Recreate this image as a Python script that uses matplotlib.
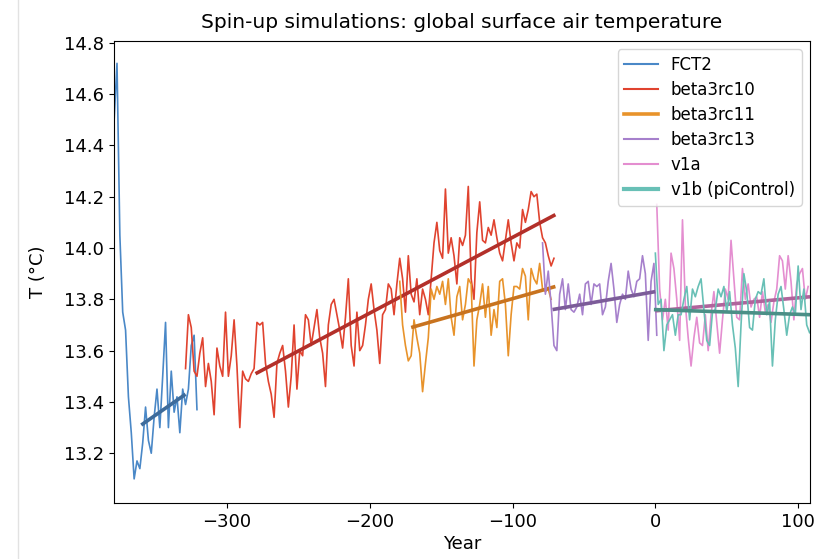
import numpy as np
import matplotlib
matplotlib.use("Agg")
import matplotlib.pyplot as plt
from matplotlib.lines import Line2D

# annual-mean global surface air temperature (sampled every 2 years), deg C
fct2_start = -379
fct2 = [14.50, 14.72, 14.05, 13.75, 13.68, 13.42, 13.28, 13.10, 13.17, 13.14,
        13.24, 13.38, 13.25, 13.20, 13.34, 13.45, 13.30, 13.50, 13.71, 13.30,
        13.52, 13.36, 13.42, 13.28, 13.45, 13.39, 13.45, 13.62, 13.66, 13.37]

b10_start = -329
beta3rc10 = [13.53, 13.74, 13.69, 13.52, 13.50, 13.59, 13.65, 13.46, 13.55, 13.48,
             13.35, 13.61, 13.54, 13.50, 13.75, 13.50, 13.58, 13.72, 13.54, 13.30,
             13.52, 13.49, 13.48, 13.51, 13.53, 13.71, 13.70, 13.71, 13.55, 13.48,
             13.43, 13.34, 13.55, 13.59, 13.62, 13.52, 13.38, 13.50, 13.70, 13.45,
             13.60, 13.58, 13.74, 13.72, 13.62, 13.69, 13.76, 13.65, 13.59, 13.46,
             13.70, 13.78, 13.80, 13.74, 13.68, 13.61, 13.73, 13.88, 13.62, 13.54,
             13.75, 13.60, 13.62, 13.70, 13.80, 13.86, 13.76, 13.68, 13.55, 13.74,
             13.76, 13.86, 13.84, 13.74, 13.86, 13.96, 13.88, 13.75, 13.97, 13.82,
             13.79, 13.88, 13.74, 13.84, 13.80, 13.74, 13.88, 14.02, 14.10, 13.99,
             13.96, 14.23, 13.98, 14.04, 13.97, 13.86, 14.04, 14.01, 14.05, 14.24,
             13.88, 13.80, 14.06, 14.18, 14.03, 14.02, 14.08, 14.05, 14.11, 14.04,
             13.98, 13.95, 14.03, 14.11, 14.02, 13.95, 14.02, 14.00, 14.15, 14.10,
             14.15, 14.22, 14.20, 14.21, 14.10, 14.04, 14.02, 13.97, 13.93, 13.96]

b11_start = -179
beta3rc11 = [13.87, 13.70, 13.62, 13.56, 13.58, 13.72, 13.65, 13.59, 13.44, 13.55,
             13.65, 13.84, 13.80, 13.85, 13.82, 13.87, 13.78, 13.88, 13.73, 13.66,
             13.81, 13.85, 13.72, 13.78, 13.88, 13.86, 13.54, 13.72, 13.78, 13.86,
             13.73, 13.85, 13.66, 13.76, 13.69, 13.87, 13.88, 13.78, 13.58, 13.74,
             13.85, 13.85, 13.84, 13.92, 13.89, 13.72, 13.92, 13.88, 13.86, 13.94,
             13.84, 13.83, 13.84, 13.80]

b13_start = -79
beta3rc13 = [14.02, 13.82, 13.91, 13.78, 13.62, 13.60, 13.82, 13.88, 13.76, 13.86,
             13.76, 13.75, 13.77, 13.82, 13.74, 13.86, 13.87, 13.78, 13.86, 13.85,
             13.86, 13.74, 13.77, 13.87, 13.94, 13.84, 13.71, 13.78, 13.82, 13.80,
             13.91, 13.84, 13.81, 13.87, 13.88, 13.97, 13.90, 13.64, 13.87, 13.94,
             13.66]

v1a_start = 1
v1a = [14.17, 13.84, 13.72, 13.80, 13.68, 13.98, 13.92, 13.80, 13.64, 14.11,
       13.78, 13.65, 13.54, 13.65, 13.73, 13.63, 13.62, 13.74, 13.60, 13.74,
       13.83, 13.71, 13.59, 13.72, 13.84, 13.80, 14.03, 13.88, 13.73, 13.72,
       13.92, 13.80, 13.86, 13.77, 13.80, 13.81, 13.73, 13.83, 13.75, 13.78,
       13.71, 13.79, 13.84, 13.97, 13.95, 13.84, 13.97, 13.87, 13.72, 13.86,
       13.90, 13.92, 13.80, 13.85]

v1b_start = 0
v1b = [13.98, 13.78, 13.80, 13.60, 13.70, 13.72, 13.74, 13.66, 13.74, 13.74,
       13.80, 13.85, 13.72, 13.84, 13.81, 13.85, 13.88, 13.76, 13.64, 13.62,
       13.75, 13.76, 13.84, 13.81, 13.85, 13.75, 13.83, 13.70, 13.61, 13.46,
       13.70, 13.90, 13.83, 13.69, 13.68, 13.80, 13.83, 13.82, 13.88, 13.74,
       13.79, 13.54, 13.72, 13.82, 13.85, 13.76, 13.66, 13.74, 13.77, 13.74,
       13.93, 13.76, 13.84, 13.70, 13.67]

# linear trend end points (year, T)
trend_fct2 = ([-360, -329], [13.31, 13.43])
trend_b10 = ([-280, -70], [13.51, 14.13])
trend_b11 = ([-171, -70], [13.69, 13.85])
trend_b13 = ([-72, 0], [13.76, 13.83])
trend_v1a = ([0, 108.3], [13.755, 13.81])
trend_v1b = ([-1, 108.3], [13.76, 13.74])

runs = [
    ("FCT2", fct2_start, fct2, trend_fct2, "#4a88c7", "#3d6b9b"),
    ("beta3rc10", b10_start, beta3rc10, trend_b10, "#e0432f", "#b3302a"),
    ("beta3rc11", b11_start, beta3rc11, trend_b11, "#e8932b", "#c8731f"),
    ("beta3rc13", b13_start, beta3rc13, trend_b13, "#a680cc", "#7c5c99"),
    ("v1a", v1a_start, v1a, trend_v1a, "#e48ed0", "#b0649c"),
    ("v1b (piControl)", v1b_start, v1b, trend_v1b, "#68c0b6", "#4b8f87"),
]
legend_lw = [1.5, 1.5, 2.6, 1.5, 1.5, 3.0]

fig = plt.figure(figsize=(8.36, 5.59), dpi=100)
ax = fig.add_axes([114 / 836, 1 - 503 / 559, 696 / 836, 462 / 559])

handles = []
for (name, start, vals, trend, col, tcol), lw in zip(runs, legend_lw):
    years = start + 2 * np.arange(len(vals))
    ax.plot(years, vals, "-", color=col, lw=1.2)
    ax.plot(trend[0], trend[1], "-", color=tcol, lw=2.6, solid_capstyle="butt")
    handles.append(Line2D([], [], color=col, lw=lw))

ax.set_xlim(-379.1, 108.3)
ax.set_ylim(13.006, 14.807)
ax.set_xticks([-300, -200, -100, 0, 100])
ax.set_yticks([13.2, 13.4, 13.6, 13.8, 14.0, 14.2, 14.4, 14.6, 14.8])
ax.tick_params(labelsize=13)
ax.set_xlabel("Year", fontsize=13, labelpad=3)
ax.set_ylabel("T (°C)", fontsize=13, labelpad=12)
ax.set_title("Spin-up simulations: global surface air temperature", fontsize=14.5, pad=9)
ax.legend(handles, [r[0] for r in runs], loc="upper right", fontsize=12,
          labelspacing=0.42, borderaxespad=0.5)

# faint notebook margin line on the left
fig.add_artist(Line2D([18 / 836, 18 / 836], [0, 1], color="#e2e2e2", lw=1))

fig.savefig("out.png", dpi=100)
